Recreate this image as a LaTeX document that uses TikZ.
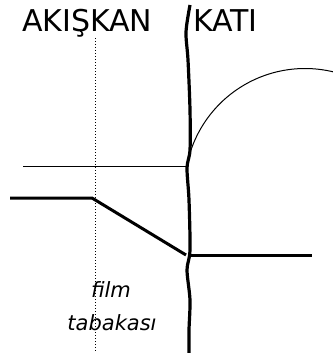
\documentclass[tikz,border=0pt]{standalone}
\usepackage{fontspec}
\setmainfont{DejaVu Sans}
\begin{document}
\begin{tikzpicture}[x=1pt,y=-1pt,
  thickline/.style={line width=3pt, line cap=butt, line join=round},
  thinline/.style={line width=1pt},
  dotline/.style={line width=1pt, dotted},
  bigtext/.style={inner sep=0pt, anchor=base west, font=\fontsize{30}{36}\selectfont},
  filmtext/.style={inner sep=0pt, anchor=base, font=\fontsize{21}{25}\selectfont\itshape}]
\useasboundingbox (0,0) rectangle (332,353);
% labels
\node[bigtext] (akiskan) at (22,32) {AKIŞKAN};
\node[bigtext] (kati) at (193,32) {KATI};
\node[filmtext] (film) at (111,297) {film};
\node[filmtext] (tabakasi) at (112,330) {tabakası};
% dotted film boundary
\draw[dotline] (95,38) -- (95,352);
% thin horizontal line
\draw[thinline] (23,166) -- (188,166);
% arc (solid surface profile)
\draw[thinline] plot[domain=161:76, samples=80, smooth] ({305+120.5*cos(\x)}, {189-120.5*sin(\x)});
% concentration profile
\draw[thickline] (10,198) -- (92,198) -- (186,255);
\draw[thickline] (188,255) -- (312,255);
% wavy interface
\draw[line width=3.2pt] plot[smooth, tension=0.5] coordinates {(190,5) (186,32) (188,60) (190,110) (190,150) (187,168) (189,200) (190,250) (187,270) (190,300) (189,330) (189,353)};
\end{tikzpicture}
\end{document}
